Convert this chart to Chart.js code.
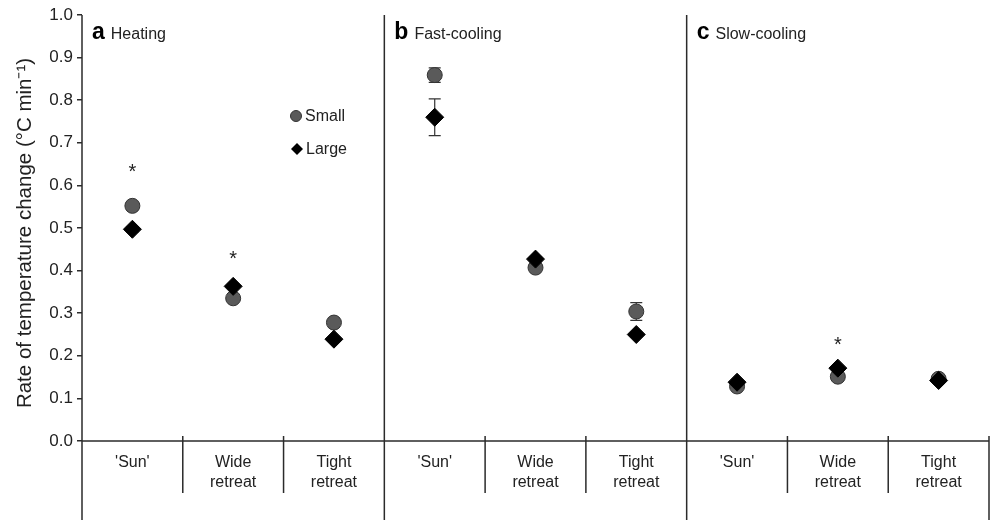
<!DOCTYPE html>
<html>
<head>
<meta charset="utf-8">
<script src="https://cdn.jsdelivr.net/npm/chart.js@4.4.1/dist/chart.umd.min.js"></script>
<style>
  html, body { margin: 0; padding: 0; background: #fff; overflow: hidden; }
  #wrap { position: relative; width: 990px; height: 520px; }
  #rateChart { display: block; }
</style>
</head>
<body>
<div id="wrap"><canvas id="rateChart"></canvas></div>
<script>
// panels and treatments
const panelLetters = ['a', 'b', 'c'];
const panelNames = ['Heating', 'Fast-cooling', 'Slow-cooling'];
const treatments = [["'Sun'"], ['Wide', 'retreat'], ['Tight', 'retreat']];

// rate of temperature change, 3 panels x 3 treatments
const smallRate = [0.552, 0.335, 0.278, 0.859, 0.407, 0.304, 0.128, 0.151, 0.146];
const largeRate = [0.497, 0.363, 0.239, 0.760, 0.427, 0.250, 0.138, 0.171, 0.142];
const smallErr = [0.005, 0.005, 0.010, 0.017, 0.005, 0.021, 0.004, 0.004, 0.004];
const largeErr = [0.006, 0.005, 0.005, 0.043, 0.005, 0.005, 0.004, 0.004, 0.004];
// significance markers (null = none)
const starLevel = [0.63, 0.425, null, null, null, null, null, 0.225, null];

const yTicks = [0, 0.1, 0.2, 0.3, 0.4, 0.5, 0.6, 0.7, 0.8, 0.9, 1.0];
const yTitle = 'Rate of temperature change (°C min⁻¹)';

const FONT = "'Liberation Sans', Arial, sans-serif";
const LINE = '#2b2b2b';

const xPos = smallRate.map((v, i) => i + 0.5);

const extras = {
  id: 'extras',
  beforeDatasetsDraw(chart) {
    const ctx = chart.ctx;
    const xs = chart.scales.x, ys = chart.scales.y;
    ctx.save();
    ctx.strokeStyle = '#333';
    ctx.lineWidth = 1.2;
    const bars = [[smallRate, smallErr], [largeRate, largeErr]];
    bars.forEach(([vals, errs]) => {
      vals.forEach((v, i) => {
        const x = xs.getPixelForValue(xPos[i]);
        const y1 = ys.getPixelForValue(v + errs[i]);
        const y2 = ys.getPixelForValue(v - errs[i]);
        ctx.beginPath();
        ctx.moveTo(x, y1); ctx.lineTo(x, y2);
        ctx.moveTo(x - 6, y1); ctx.lineTo(x + 6, y1);
        ctx.moveTo(x - 6, y2); ctx.lineTo(x + 6, y2);
        ctx.stroke();
      });
    });
    ctx.restore();
  },
  afterDraw(chart) {
    const ctx = chart.ctx;
    const xs = chart.scales.x, ys = chart.scales.y;
    const a = chart.chartArea;
    const y0 = ys.getPixelForValue(0);
    const H = chart.height;
    ctx.save();
    ctx.strokeStyle = LINE;
    ctx.lineWidth = 1.5;
    ctx.beginPath();
    // y axis down to bottom
    ctx.moveTo(a.left, a.top); ctx.lineTo(a.left, H);
    // x axis
    ctx.moveTo(a.left, y0); ctx.lineTo(a.right, y0);
    // panel dividers
    [3, 6].forEach(p => {
      const x = xs.getPixelForValue(p);
      ctx.moveTo(x, a.top); ctx.lineTo(x, H);
    });
    // treatment dividers
    [1, 2, 4, 5, 7, 8].forEach(p => {
      const x = xs.getPixelForValue(p);
      ctx.moveTo(x, y0 - 5); ctx.lineTo(x, y0 + 52);
    });
    ctx.moveTo(a.right, y0 - 5); ctx.lineTo(a.right, H);
    ctx.stroke();

    // y title
    ctx.save();
    ctx.translate(25, (a.top + y0) / 2 + 5);
    ctx.rotate(-Math.PI / 2);
    ctx.font = '20.5px ' + FONT;
    ctx.fillStyle = '#222';
    ctx.textAlign = 'center';
    ctx.textBaseline = 'middle';
    ctx.fillText(yTitle, 0, 0);
    ctx.restore();

    // treatment labels
    ctx.fillStyle = '#222';
    ctx.font = '16px ' + FONT;
    ctx.textAlign = 'center';
    ctx.textBaseline = 'middle';
    for (let i = 0; i < 9; i++) {
      const x = xs.getPixelForValue(xPos[i]);
      treatments[i % 3].forEach((t, k) => ctx.fillText(t, x, y0 + 22 + k * 20));
    }

    // panel titles
    ctx.textAlign = 'left';
    ctx.textBaseline = 'alphabetic';
    panelLetters.forEach((l, p) => {
      const x = xs.getPixelForValue(p * 3);
      ctx.font = 'bold 23px ' + FONT;
      ctx.fillStyle = '#000';
      ctx.fillText(l, x + 10, a.top + 24);
      const w = ctx.measureText(l).width;
      ctx.font = '16px ' + FONT;
      ctx.fillStyle = '#222';
      ctx.fillText(panelNames[p], x + 10 + w + 6, a.top + 24);
    });

    // asterisks
    ctx.font = '20px ' + FONT;
    ctx.textAlign = 'center';
    ctx.textBaseline = 'middle';
    ctx.fillStyle = '#222';
    starLevel.forEach((s, i) => {
      if (s === null) return;
      ctx.fillText('*', xs.getPixelForValue(xPos[i]), ys.getPixelForValue(s));
    });

    // legend
    const lx = a.left + 214, ly = a.top + 101;
    ctx.beginPath();
    ctx.arc(lx, ly, 5.5, 0, Math.PI * 2);
    ctx.fillStyle = '#5a5a5a'; ctx.fill();
    ctx.strokeStyle = '#333'; ctx.lineWidth = 1; ctx.stroke();
    ctx.beginPath();
    ctx.moveTo(lx + 1, ly + 27); ctx.lineTo(lx + 7, ly + 33);
    ctx.lineTo(lx + 1, ly + 39); ctx.lineTo(lx - 5, ly + 33);
    ctx.closePath();
    ctx.fillStyle = '#000'; ctx.fill();
    ctx.fillStyle = '#222';
    ctx.font = '16px ' + FONT;
    ctx.textAlign = 'left';
    ctx.fillText('Small', lx + 9, ly + 1);
    ctx.fillText('Large', lx + 10, ly + 34);
    ctx.restore();
  }
};

const dataRate = {
  datasets: [
    {
      label: 'Large',
      data: largeRate.map((v, i) => ({ x: xPos[i], y: v })),
      pointStyle: 'rectRot',
      pointRadius: 9,
      backgroundColor: '#000',
      borderColor: '#000',
      borderWidth: 1,
    },
    {
      label: 'Small',
      data: smallRate.map((v, i) => ({ x: xPos[i], y: v })),
      pointStyle: 'circle',
      pointRadius: 7.5,
      backgroundColor: '#5a5a5a',
      borderColor: '#333',
      borderWidth: 1,
    },
  ],
};

const configRate = {
  type: 'scatter',
  data: dataRate,
  options: {
    responsive: false,
    animation: false,
    events: [],
    layout: { autoPadding: false, padding: { left: 0, top: 15, right: 1, bottom: 79 } },
    plugins: {
      legend: { display: false },
      tooltip: { enabled: false },
    },
    scales: {
      x: {
        type: 'linear',
        min: 0,
        max: 9,
        display: false,
      },
      y: {
        min: 0,
        max: 1,
        afterBuildTicks: (s) => { s.ticks = yTicks.map(v => ({ value: v })); },
        afterFit: (s) => { s.width = 82; },
        ticks: {
          callback: (v) => v.toFixed(1),
          font: { size: 17, family: FONT },
          color: '#222',
          padding: 4,
        },
        grid: { drawOnChartArea: false, tickLength: 5, color: LINE, lineWidth: 1.5 },
        border: { display: false },
        title: { display: false },
      },
    },
  },
  plugins: [extras],
};

const canvas = document.getElementById('rateChart');
canvas.width = 990;
canvas.height = 520;
const ctxRate = canvas.getContext('2d');
const rateChart = new Chart(ctxRate, configRate);
</script>
</body>
</html>
